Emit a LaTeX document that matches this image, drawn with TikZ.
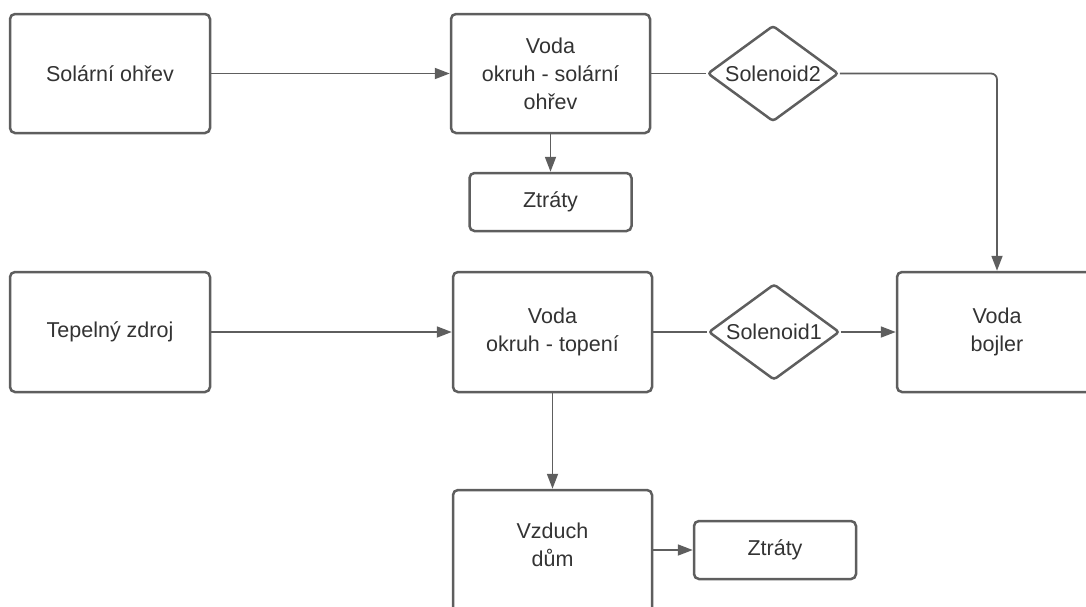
\documentclass[tikz,border=0pt]{standalone}
\usepackage{fontspec}
\setmainfont{Liberation Sans}
\usetikzlibrary{shapes.geometric,arrows.meta}
\definecolor{ln}{HTML}{5E5E5E}
\definecolor{tx}{HTML}{333333}
\tikzset{
  box/.style={draw=ln, line width=2.5pt, rounded corners=5pt, fill=white, align=center,
    text=tx, font=\fontsize{21.5}{28}\selectfont, inner sep=0pt},
  dia/.style={draw=ln, line width=2.5pt, shape=diamond, rounded corners=3pt, fill=white,
    minimum width=131pt, minimum height=96pt, inner sep=0pt},
  lbl/.style={text=tx, font=\fontsize{21.5}{28}\selectfont, align=center},
  conn/.style={draw=ln, line width=1.8pt},
  arr/.style={conn, -{Triangle[length=15pt,width=11pt]}}
}
\begin{document}
\begin{tikzpicture}[x=1pt,y=-1pt]
\useasboundingbox (0,0) rectangle (1086,606);
\clip (0,0) rectangle (1086,606);
\node[box, minimum width=200pt, minimum height=119pt] (sol) at (110,73.5) {Solární ohřev};
\node[box, minimum width=199pt, minimum height=119pt] (v1) at (550.5,73.5) {Voda\\okruh - solární\\ohřev};
\node[dia] (s2) at (773,73.5) {};
\node[lbl] (s2t) at (s2.center) {Solenoid2};
\node[box, minimum width=162pt, minimum height=58pt] (z1) at (550.5,202) {Ztráty};
\node[box, minimum width=200pt, minimum height=120pt] (tep) at (110,332) {Tepelný zdroj};
\node[box, minimum width=199pt, minimum height=120pt] (v2) at (552.5,332) {Voda\\okruh - topení};
\node[dia] (s1) at (774,332) {};
\node[lbl] (s1t) at (s1.center) {Solenoid1};
\node[box, minimum width=200pt, minimum height=120pt] (boj) at (997,332) {Voda\\bojler};
\node[box, minimum width=199pt, minimum height=130pt] (vz) at (552.5,555) {};
\node[lbl] (vzt) at (552.5,545) {Vzduch\\dům};
\node[box, minimum width=162pt, minimum height=58pt] (z2) at (775,550) {Ztráty};
\draw[arr] (sol.east) -- (v1.west);
\draw[conn] (v1.east) -- (s2.west);
\draw[arr, rounded corners=6pt] (s2.east) -| (boj.north);
\draw[arr] (v1.south) -- (z1.north);
\draw[arr] (tep.east) -- (v2.west);
\draw[conn] (v2.east) -- (s1.west);
\draw[arr] (s1.east) -- (boj.west);
\draw[arr] (v2.south) -- (vz.north);
\draw[arr] (vz.east |- z2.west) -- (z2.west);
\end{tikzpicture}
\end{document}
